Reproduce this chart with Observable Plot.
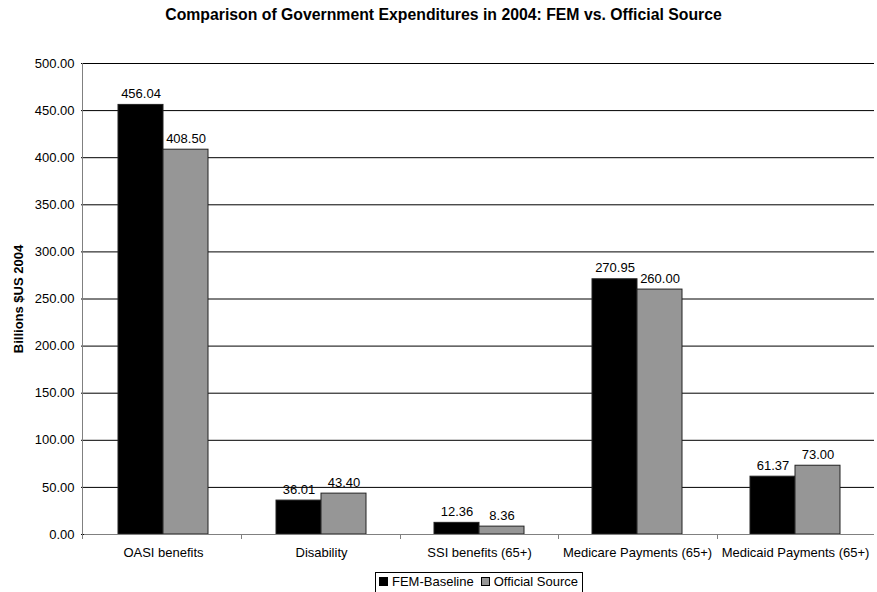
<!DOCTYPE html>
<html>
<head>
<meta charset="utf-8">
<script src="https://cdn.jsdelivr.net/npm/d3@7"></script>
<script src="https://cdn.jsdelivr.net/npm/@observablehq/plot@0.6"></script>
<style>
  html, body { margin: 0; padding: 0; background: #fff; }
  #wrap { position: relative; width: 877px; height: 592px; overflow: hidden; font-family: "Liberation Sans", Arial, sans-serif; }
  #title { position: absolute; left: 5px; top: 6px; width: 877px; text-align: center; font-weight: bold; font-size: 15.8px; color: #000; white-space: nowrap; }
  #chart { position: absolute; left: 0; top: 0; }
  #legend { position: absolute; left: 375px; top: 572px; border: 1px solid #000; padding: 1px 4px 3px 3px; font-size: 13px; color: #000; white-space: nowrap; line-height: 16px; }
  #legend span.sw { display: inline-block; width: 7px; height: 7px; border: 1px solid #000; margin-right: 4px; vertical-align: 0px; }
  #legend span.sw.next { margin-left: 7px; }
  #chart svg [aria-label="y-axis label"] text { font-weight: bold; }
</style>
</head>
<body>
<div id="wrap">
  <div id="chart"></div>
  <div id="title"></div>
  <div id="legend"></div>
</div>
<script>
const titleText = "Comparison of Government Expenditures in 2004: FEM vs. Official Source";
const yLabel = "Billions $US 2004";
const categories = ["OASI benefits", "Disability", "SSI benefits (65+)", "Medicare Payments (65+)", "Medicaid Payments (65+)"];
const seriesNames = ["FEM-Baseline", "Official Source"];
const femValues = [456.04, 36.01, 12.36, 270.95, 61.37];
const officialValues = [408.50, 43.40, 8.36, 260.00, 73.00];
const colors = ["#000000", "#969696"];
const yTicks = [0, 50, 100, 150, 200, 250, 300, 350, 400, 450, 500];

const data = [];
categories.forEach((c, i) => {
  data.push({category: c, series: seriesNames[0], value: femValues[i]});
  data.push({category: c, series: seriesNames[1], value: officialValues[i]});
});

document.getElementById("title").textContent = titleText;

const fmt = d3.format(".2f");

const chart = Plot.plot({
  width: 877,
  height: 592,
  marginTop: 63,
  marginBottom: 58,
  marginLeft: 82,
  marginRight: 1,
  style: {fontFamily: "'Liberation Sans', Arial, sans-serif", fontSize: "13px", color: "#000", background: "#fff"},
  fx: {domain: categories, padding: 0, label: null, axis: "bottom", tickSize: 0, tickPadding: 13},
  x: {domain: seriesNames, axis: null, paddingInner: 0, paddingOuter: 0.726},
  y: {domain: [0, 500], ticks: yTicks, tickFormat: fmt, label: yLabel, labelAnchor: "center", labelOffset: 71, labelArrow: "none", tickSize: 3, tickPadding: 7, grid: false},
  color: {domain: seriesNames, range: colors},
  marks: [
    Plot.ruleY(yTicks.filter(d => d > 0), {stroke: "#000", strokeWidth: 1}),
    Plot.barY(data, {fx: "category", x: "series", y: "value", fill: "series", stroke: "#222", strokeWidth: 1}),
    Plot.text(data, {fx: "category", x: "series", y: "value", text: d => fmt(d.value), dy: -11, fontSize: 13, fill: "#000"}),
    Plot.ruleY([0], {stroke: "#808080", strokeWidth: 1})
  ]
});
document.getElementById("chart").appendChild(chart);

// category boundary tick marks and left axis line, positioned with the chart's own scales
const fxs = chart.scale("fx");
const ys = chart.scale("y");
const fxScale = d3.scaleBand().domain(fxs.domain).range(fxs.range).paddingInner(fxs.paddingInner ?? 0).paddingOuter(fxs.paddingOuter ?? 0);
const yScale = d3.scaleLinear().domain(ys.domain).range(ys.range);
const svg = d3.select(chart);
const y0 = yScale(0);
const g = svg.append("g").attr("stroke", "#808080").attr("shape-rendering", "crispEdges");
categories.forEach((c) => {
  const x = fxScale(c);
  g.append("line").attr("x1", x + 0.5).attr("x2", x + 0.5).attr("y1", y0).attr("y2", y0 + 5);
});
g.append("line").attr("x1", fxs.range[0] + 0.5).attr("x2", fxs.range[0] + 0.5).attr("y1", yScale(500)).attr("y2", y0 + 0.5);

// legend
const lg = document.getElementById("legend");
seriesNames.forEach((s, i) => {
  const sw = document.createElement("span");
  sw.className = "sw" + (i > 0 ? " next" : "");
  sw.style.background = colors[i];
  lg.appendChild(sw);
  lg.appendChild(document.createTextNode(s));
});
</script>
</body>
</html>
